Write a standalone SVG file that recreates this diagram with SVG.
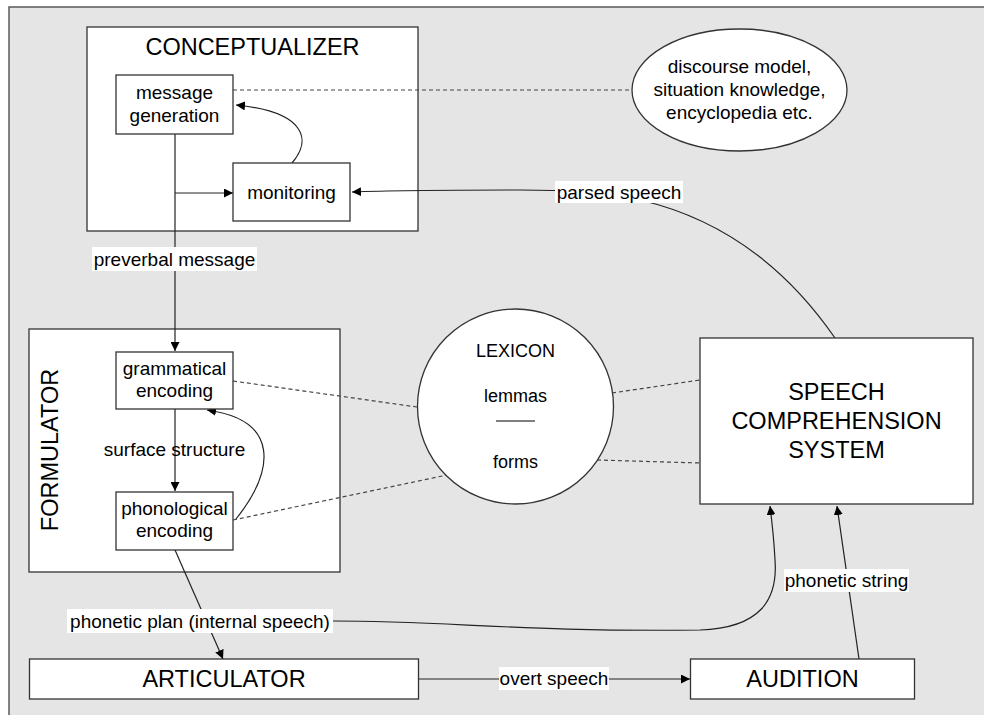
<svg xmlns="http://www.w3.org/2000/svg" width="984" height="715" viewBox="0 0 984 715">
  <defs>
    <marker id="arrow" viewBox="0 0 10 10" refX="10" refY="5" markerWidth="9" markerHeight="9" markerUnits="userSpaceOnUse" orient="auto">
      <path d="M0,0 L10,5 L0,10 z" fill="#000"/>
    </marker>
  </defs>
  <style>
    text { font-family: "Liberation Sans", Arial, sans-serif; fill: #000; }
    .box { fill: #fff; stroke: #333; stroke-width: 1.3; }
    .lbl { font-size: 19px; text-anchor: middle; dominant-baseline: central; }
    .big { font-size: 23.5px; text-anchor: middle; dominant-baseline: central; }
    .lex { font-size: 18px; text-anchor: middle; dominant-baseline: central; }
    .edge { fill: none; stroke: #222; stroke-width: 1.2; }
    .dash { fill: none; stroke: #444; stroke-width: 1.2; stroke-dasharray: 4 3; }
    .tag { fill: #fff; }
  </style>

  <!-- backdrop panel -->
  <rect x="9" y="7" width="990" height="720" fill="#e5e5e5" stroke="#5a5a5a" stroke-width="1.5"/>

  <!-- containers -->
  <g id="conceptualizer">
    <rect class="box" x="87" y="27" width="331" height="204"/>
    <text class="big" x="252.5" y="47">CONCEPTUALIZER</text>
  </g>
  <g id="formulator">
    <rect class="box" x="29" y="329" width="311" height="243"/>
    <text class="big" transform="translate(50,450) rotate(-90)">FORMULATOR</text>
  </g>

  <!-- connectors -->
  <g id="connectors">
    <!-- dotted associations -->
    <line class="dash" x1="233" y1="90" x2="632" y2="90"/>
    <line class="dash" x1="233" y1="381" x2="417" y2="407"/>
    <line class="dash" x1="233" y1="520" x2="447" y2="475"/>
    <line class="dash" x1="612" y1="393" x2="700" y2="380"/>
    <line class="dash" x1="597" y1="460" x2="700" y2="463"/>

    <!-- conceptualizer internals -->
    <line class="edge" x1="175" y1="134" x2="175" y2="351" marker-end="url(#arrow)"/>
    <line class="edge" x1="175" y1="193" x2="233" y2="193" marker-end="url(#arrow)"/>
    <path class="edge" d="M292,163 C312,140 306,112 236,105" marker-end="url(#arrow)"/>

    <!-- formulator internals -->
    <line class="edge" x1="175" y1="409" x2="175" y2="491" marker-end="url(#arrow)"/>
    <path class="edge" d="M236,519 C275,470 280,420 207,410" marker-end="url(#arrow)"/>

    <!-- parsed speech back to monitoring -->
    <path class="edge" d="M835,338 C795,280 735,222 640,200 C600,191 560,190 520,190 C450,190 400,190 352,192" marker-end="url(#arrow)"/>

    <!-- phonetic plan -->
    <line class="edge" x1="175" y1="550" x2="223" y2="659" marker-end="url(#arrow)"/>
    <path class="edge" d="M333,621 C450,621 520,632 700,630 C760,628 778,600 775,560 C774,540 772,522 770,506" marker-end="url(#arrow)"/>

    <!-- phonetic string -->
    <line class="edge" x1="859" y1="659" x2="837" y2="506" marker-end="url(#arrow)"/>

    <!-- overt speech -->
    <line class="edge" x1="419" y1="679" x2="690" y2="679" marker-end="url(#arrow)"/>

    <!-- connector labels -->
    <rect class="tag" x="92" y="247" width="165" height="24"/>
    <text class="lbl" x="174.5" y="259">preverbal message</text>
    <text class="lbl" x="174.5" y="449">surface structure</text>
    <rect class="tag" x="555" y="181" width="128" height="22"/>
    <text class="lbl" x="619" y="192">parsed speech</text>
    <rect class="tag" x="67" y="609" width="266" height="24"/>
    <text class="lbl" x="200" y="621">phonetic plan (internal speech)</text>
    <rect class="tag" x="784" y="569" width="125" height="23"/>
    <text class="lbl" x="846.5" y="580.5">phonetic string</text>
    <rect class="tag" x="499" y="667" width="110" height="23"/>
    <text class="lbl" x="554" y="678">overt speech</text>
  </g>

  <!-- nodes -->
  <g id="message-generation">
    <rect class="box" x="116" y="75" width="117" height="59"/>
    <text class="lbl" x="174.5" y="92">message</text>
    <text class="lbl" x="174.5" y="115">generation</text>
  </g>
  <g id="monitoring">
    <rect class="box" x="233" y="163" width="117" height="58"/>
    <text class="lbl" x="291.5" y="192">monitoring</text>
  </g>
  <g id="knowledge">
    <ellipse class="box" cx="739.5" cy="90" rx="107.5" ry="61"/>
    <text class="lbl" x="739.5" y="66">discourse model,</text>
    <text class="lbl" x="739.5" y="89">situation knowledge,</text>
    <text class="lbl" x="739.5" y="112">encyclopedia etc.</text>
  </g>
  <g id="grammatical-encoding">
    <rect class="box" x="116" y="352" width="117" height="57"/>
    <text class="lbl" x="174.5" y="368">grammatical</text>
    <text class="lbl" x="174.5" y="390">encoding</text>
  </g>
  <g id="phonological-encoding">
    <rect class="box" x="116" y="492" width="117" height="58"/>
    <text class="lbl" x="174.5" y="508">phonological</text>
    <text class="lbl" x="174.5" y="530.5">encoding</text>
  </g>
  <g id="lexicon">
    <ellipse class="box" cx="515.5" cy="406.5" rx="98" ry="97.5"/>
    <text class="lex" x="515.5" y="351">LEXICON</text>
    <text class="lex" x="515.5" y="396">lemmas</text>
    <line x1="496" y1="421" x2="535" y2="421" stroke="#000" stroke-width="1"/>
    <text class="lex" x="515.5" y="462">forms</text>
  </g>
  <g id="speech-comprehension">
    <rect class="box" x="700" y="338" width="273" height="166"/>
    <text class="big" x="836.5" y="392">SPEECH</text>
    <text class="big" x="836.5" y="421">COMPREHENSION</text>
    <text class="big" x="836.5" y="449.5">SYSTEM</text>
  </g>
  <g id="articulator">
    <rect class="box" x="29.5" y="659" width="389" height="40"/>
    <text class="big" x="224" y="679">ARTICULATOR</text>
  </g>
  <g id="audition">
    <rect class="box" x="690.5" y="659" width="224" height="40"/>
    <text class="big" x="802.5" y="679">AUDITION</text>
  </g>
</svg>
